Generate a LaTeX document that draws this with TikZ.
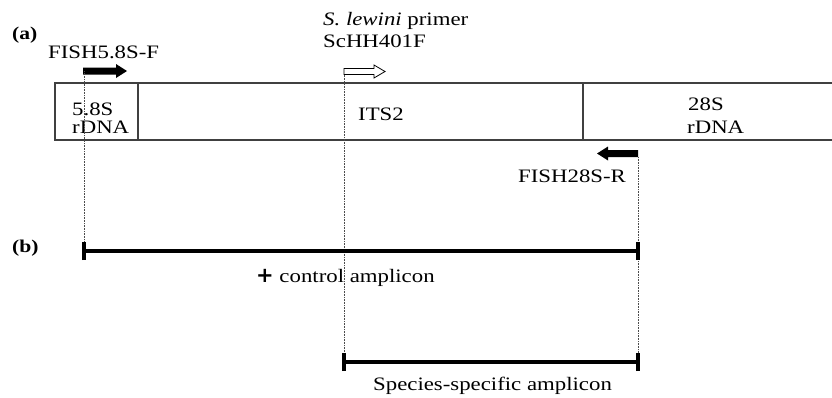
\documentclass[tikz,border=0pt]{standalone}
\usepackage{fontspec}
\setmainfont{Liberation Serif}[FakeStretch=1.2]
\newfontfamily\plusfont{DejaVu Sans}
\begin{document}
\begin{tikzpicture}[x=1pt,y=-1pt,
  lbl/.style={inner sep=0pt,anchor=base west,font=\fontsize{19}{22}\selectfont},
  tag/.style={inner sep=0pt,anchor=base west,font=\fontsize{18}{20}\selectfont\bfseries},
  boxline/.style={draw=black!75,line width=1.6pt},
  guide/.style={densely dotted,line width=0.6pt,black!70},
  bar/.style={line width=3.2pt,black},
  tick/.style={line width=3.2pt,black},
  fwd/.style={fill=black},
  openarr/.style={draw=black,line width=0.8pt,fill=white}]
\useasboundingbox (0,0) rectangle (832,397);
% box
\draw[boxline] (832,83) -- (55,83) -- (55,140) -- (832,140);
\draw[boxline] (138,83) -- (138,140);
\draw[boxline] (583,83) -- (583,140);
\node[lbl] (s58) at (72,115) {5.8S};
\node[lbl] (r58) at (72,133) {rDNA};
\node[lbl] (its) at (358,120) {ITS2};
\node[lbl] (s28) at (688,110) {28S};
\node[lbl] (r28) at (687,133) {rDNA};
% labels
\node[tag] (a) at (12,39) {(a)};
\node[tag] (b) at (12,252) {(b)};
\node[lbl] (f58) at (48,58) {FISH5.8S-F};
\node[lbl] (sl) at (323,25) {\textit{S. lewini} primer};
\node[lbl] (sch) at (323,47) {ScHH401F};
\node[lbl] (r28l) at (518,182) {FISH28S-R};
\node[lbl] (ctl) at (256,282) {{\plusfont\fontsize{21}{21}\selectfont\bfseries +} control amplicon};
\node[lbl] (sp) at (373,390) {Species-specific amplicon};
% primer arrows
\fill[fwd] (83,67.5) -- (116,67.5) -- (116,64) -- (127,71) -- (116,78) -- (116,74.5) -- (83,74.5) -- cycle;
\draw[openarr] (344,68.5) -- (374,68.5) -- (374,65) -- (385,71.5) -- (374,78) -- (374,74.5) -- (344,74.5) -- cycle;
\fill[fwd] (638,150) -- (608,150) -- (608,146.5) -- (597,153.5) -- (608,160.5) -- (608,157) -- (638,157) -- cycle;
% coordinates
\coordinate (p1) at (84,71);
\coordinate (p2) at (344,74.5);
\coordinate (p3) at (638,157);
\coordinate (c1) at (84,251);
\coordinate (c2) at (638,251);
\coordinate (s1) at (344,362);
\coordinate (s2) at (638,362);
% guides
\draw[guide] (p1) -- (c1);
\draw[guide] (p2) -- (s1);
\draw[guide] (p3) -- (s2);
% bars
\draw[bar] (c1) -- (c2);
\draw[tick] ([yshift=-9]c1) -- ([yshift=9]c1);
\draw[tick] ([yshift=-9]c2) -- ([yshift=9]c2);
\draw[bar] (s1) -- (s2);
\draw[tick] ([yshift=-9]s1) -- ([yshift=9]s1);
\draw[tick] ([yshift=-9]s2) -- ([yshift=9]s2);
\end{tikzpicture}
\end{document}
